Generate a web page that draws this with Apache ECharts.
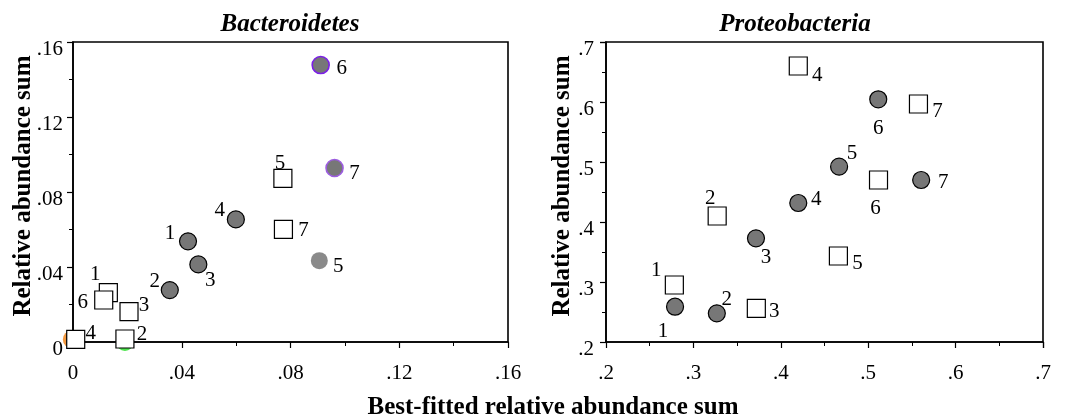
<!DOCTYPE html>
<html>
<head>
<meta charset="utf-8">
<script src="https://cdn.jsdelivr.net/npm/echarts@6/dist/echarts.min.js"></script>
<style>
    html, body {margin: 0; padding: 0; background: #fff;}
    #chartWrap {width: 1066px; height: 417px;}
</style>
</head>
<body>
<div id="chartWrap"></div>
<script>
// point ids 1..7
const pointNames = ['1', '2', '3', '4', '5', '6', '7'];

// Bacteroidetes
const bactCircleX = [0.0423, 0.0356, 0.0461, 0.0599, 0.0906, 0.0911, 0.0962];
const bactCircleY = [0.0537, 0.0277, 0.0414, 0.0654, 0.0434, 0.1477, 0.0928];
const bactSquareX = [0.0130, 0.0191, 0.0206, 0.0010, 0.0772, 0.0113, 0.0774];
const bactSquareY = [0.0263, 0.0016, 0.0162, 0.0014, 0.0873, 0.0224, 0.0601];
// half hidden markers behind squares 4 and 2
const bactHiddenX = [-0.0006, 0.0191];
const bactHiddenY = [0.0014, -0.0003];

// Proteobacteria
const protCircleX = [0.279, 0.3268, 0.3716, 0.42, 0.4667, 0.5115, 0.5606];
const protCircleY = [0.2588, 0.2478, 0.3728, 0.4317, 0.4922, 0.6045, 0.47];
const protSquareX = [0.2782, 0.3272, 0.372, 0.42, 0.4659, 0.5118, 0.5575];
const protSquareY = [0.295, 0.41, 0.2562, 0.66, 0.3433, 0.47, 0.5967];

const bactTicks = [0, 0.04, 0.08, 0.12, 0.16];
const protTicks = [0.2, 0.3, 0.4, 0.5, 0.6, 0.7];

// label offsets in px (style only)
const bactCircleOff = [[-18, -8], [-15, -9], [12, 16], [-16, -9], [19, 6], [21, 3], [20, 5]];
const bactSquareOff = [[-13, -18], [17, -5], [15, -6], [15, -6], [-3, -15], [-21, 2], [20, 1]];
const protCircleOff = [[-12, 25], [10, -14], [10, 19], [18, -3], [13, -13], [0, 29], [22, 2]];
const protSquareOff = [[-18, -15], [-7, -18], [18, 3], [19, 9], [19, 7], [-3, 28], [19, 8]];

const FONT = '"Liberation Serif", "Times New Roman", serif';

const bactCircleStyle = [null, null, null, null,
    {color: '#8a8a8a', borderWidth: 0},
    {color: '#777', borderColor: '#7b1fe6', borderWidth: 1.6},
    {color: '#777', borderColor: '#9c5ce0', borderWidth: 1.6}];

function points(xs, ys, offs, styles) {
    return xs.map(function (x, i) {
        let item = {
            name: pointNames[i],
            value: [x, ys[i]],
            label: {offset: offs[i]}
        };
        if (styles && styles[i]) {
            item.itemStyle = styles[i];
        }
        return item;
    });
}

function fmt(digits) {
    return function (v) {
        if (Math.abs(v) < 1e-9) return '0';
        return v.toFixed(digits).replace(/^0/, '');
    };
}

function xAxisFor(idx, ticks, digits) {
    return {
        gridIndex: idx,
        type: 'value',
        min: ticks[0],
        max: ticks[ticks.length - 1],
        interval: ticks[1] - ticks[0],
        axisLine: {onZero: false, lineStyle: {color: '#000', width: 1.6}},
        axisTick: {length: 6, lineStyle: {color: '#000', width: 1.2}},
        minorTick: {show: true, splitNumber: 2, length: 4, lineStyle: {color: '#000', width: 1}},
        splitLine: {show: false},
        axisLabel: {fontFamily: FONT, fontSize: 21, color: '#000', margin: 21, formatter: fmt(digits)}
    };
}

function yAxisFor(idx, ticks, digits, margin) {
    return {
        gridIndex: idx,
        type: 'value',
        min: ticks[0],
        max: ticks[ticks.length - 1],
        interval: ticks[1] - ticks[0],
        axisLine: {onZero: false, lineStyle: {color: '#000', width: 1.6}},
        axisTick: {length: 6, lineStyle: {color: '#000', width: 1.2}},
        minorTick: {show: true, splitNumber: 2, length: 4, lineStyle: {color: '#000', width: 1}},
        splitLine: {show: false},
        axisLabel: {
            fontFamily: FONT, fontSize: 21, color: '#000', margin: margin,
            verticalAlign: 'top',
            lineHeight: 14,
            formatter: fmt(digits)
        }
    };
}

const labelBase = {
    show: true,
    position: 'inside',
    formatter: '{b}',
    fontFamily: FONT,
    fontSize: 21,
    color: '#000'
};

function circleSeries(idx, data) {
    return {
        type: 'scatter',
        xAxisIndex: idx,
        yAxisIndex: idx,
        symbol: 'circle',
        symbolSize: 17,
        clip: false,
        z: 3,
        itemStyle: {color: '#777', borderColor: '#000', borderWidth: 1.2, opacity: 1},
        label: labelBase,
        emphasis: {disabled: true},
        data: data
    };
}

function squareSeries(idx, data) {
    return {
        type: 'scatter',
        xAxisIndex: idx,
        yAxisIndex: idx,
        symbol: 'rect',
        symbolSize: 18,
        clip: false,
        z: 4,
        itemStyle: {color: '#fff', borderColor: '#000', borderWidth: 1.2, opacity: 1},
        label: labelBase,
        emphasis: {disabled: true},
        data: data
    };
}

const myChart = echarts.init(document.getElementById('chartWrap'), null, {renderer: 'canvas'});

const titleStyle = {fontFamily: FONT, fontSize: 25, fontWeight: 'bold', fontStyle: 'italic', color: '#000'};

const option = {
    animation: false,
    backgroundColor: '#fff',
    title: [{
        text: 'Bacteroidetes',
        left: 285,
        top: 7,
        textAlign: 'center',
        textStyle: titleStyle
    }, {
        text: 'Proteobacteria',
        left: 790,
        top: 7,
        textAlign: 'center',
        textStyle: titleStyle
    }, {
        text: 'Best-fitted relative abundance sum',
        left: 548,
        top: 390,
        textAlign: 'center',
        textStyle: {fontFamily: FONT, fontSize: 25, fontWeight: 'bold', color: '#000'}
    }],
    graphic: [{
        type: 'text',
        x: 24,
        y: 186,
        rotation: Math.PI / 2,
        style: {
            text: 'Relative abundance sum',
            font: 'bold 25px ' + FONT,
            fill: '#000',
            align: 'center',
            verticalAlign: 'middle'
        }
    }, {
        type: 'text',
        x: 563,
        y: 186,
        rotation: Math.PI / 2,
        style: {
            text: 'Relative abundance sum',
            font: 'bold 25px ' + FONT,
            fill: '#000',
            align: 'center',
            verticalAlign: 'middle'
        }
    }],
    grid: [
        {left: 73, top: 42, width: 435, height: 300, show: true, borderColor: '#000', borderWidth: 1.6, backgroundColor: 'transparent'},
        {left: 606, top: 42, width: 437, height: 300, show: true, borderColor: '#000', borderWidth: 1.6, backgroundColor: 'transparent'}
    ],
    xAxis: [xAxisFor(0, bactTicks, 2), xAxisFor(1, protTicks, 1)],
    yAxis: [yAxisFor(0, bactTicks, 2, 10), yAxisFor(1, protTicks, 1, 12)],
    series: [
        {
            type: 'scatter',
            xAxisIndex: 0,
            yAxisIndex: 0,
            symbol: 'circle',
            symbolSize: 17,
            clip: false,
            z: 2,
            emphasis: {disabled: true},
            data: [
                {value: [bactHiddenX[0], bactHiddenY[0]], itemStyle: {color: '#f07f10'}},
                {value: [bactHiddenX[1], bactHiddenY[1]], itemStyle: {color: '#22dd22'}}
            ]
        },
        circleSeries(0, points(bactCircleX, bactCircleY, bactCircleOff, bactCircleStyle)),
        squareSeries(0, points(bactSquareX, bactSquareY, bactSquareOff)),
        circleSeries(1, points(protCircleX, protCircleY, protCircleOff)),
        squareSeries(1, points(protSquareX, protSquareY, protSquareOff))
    ]
};

myChart.setOption(option);
</script>
</body>
</html>
